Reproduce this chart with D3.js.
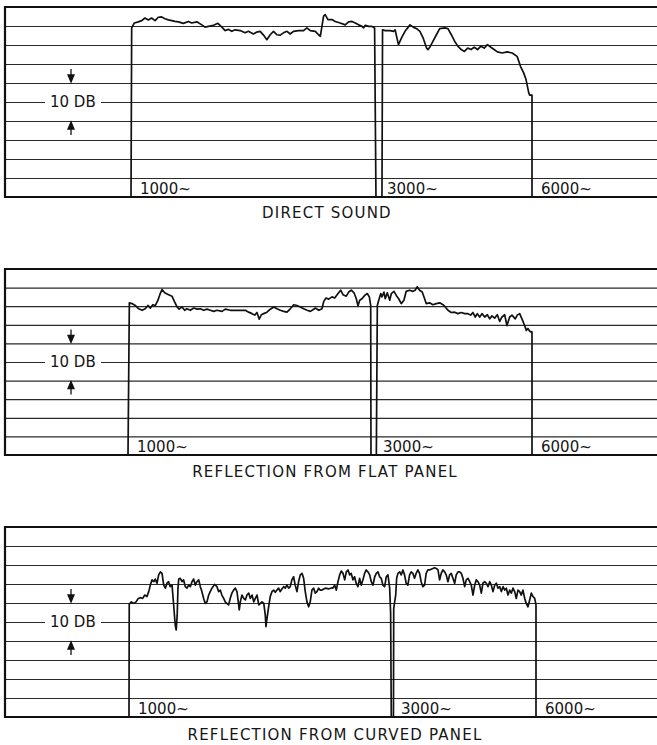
<!DOCTYPE html>
<meta charset="utf-8">
<style>
body { margin: 0; background: #fff; }
svg { display: block; }
.grid .tick line { stroke: #2a2a2a; stroke-width: 1.2px; }
.grid .domain, .grid text { display: none; }
.frame { fill: none; stroke: #111; stroke-width: 2.2px; }
.trace { fill: none; stroke: #111; stroke-width: 1.7px; stroke-linejoin: round; }
.arrow { stroke: #111; stroke-width: 1.3px; fill: #111; }
text { font-family: "DejaVu Sans", sans-serif; font-size: 15px; fill: #151515; }
.title { text-anchor: middle; letter-spacing: 1.2px; }
</style>
<body>
<script src="https://cdn.jsdelivr.net/npm/d3@7"></script>
<script>

var titles = ["DIRECT SOUND", "REFLECTION FROM FLAT PANEL", "REFLECTION FROM CURVED PANEL"];
var markerFreqs = [1000, 3000, 6000];
var markerLabels = ["1000~", "3000~", "6000~"];
var gridDb = [-5, -10, -15, -20, -25, -30, -35, -40, -45];
var scaleLabel = "10 DB";
var scaleSpan = [-20, -30];   // the 10 dB span marked by the arrows

// pen traces: [frequency Hz, level dB relative to chart top]
var directSound = [
  [1000,-50],[1003,-5.5],[1015,-4.2],[1033,-3.9],[1049,-3.6],[1064,-2.9],[1080,-3.4],[1096,-2.9],[1113,-3.6],
  [1129,-2.7],[1146,-2.6],[1163,-3.1],[1181,-3.4],[1199,-3.6],[1216,-3.8],[1235,-3.9],[1262,-4.3],[1291,-3.8],
  [1310,-4.2],[1340,-3.9],[1370,-4.7],[1390,-5.3],[1411,-5.1],[1443,-4.8],[1472,-4.3],[1498,-5.3],[1520,-6.2],
  [1543,-5.9],[1566,-6.4],[1589,-6.0],[1625,-6.2],[1661,-6.8],[1686,-6.4],[1724,-7.1],[1750,-6.6],[1776,-6.4],
  [1803,-7.4],[1830,-8.6],[1857,-7.3],[1885,-6.4],[1913,-7.3],[1942,-7.4],[1970,-6.8],[2001,-6.4],[2030,-7.1],
  [2060,-6.4],[2107,-6.2],[2154,-6.2],[2187,-5.5],[2220,-6.2],[2270,-6.4],[2303,-7.3],[2321,-7.7],[2338,-5.1],
  [2355,-2.4],[2372,-2.0],[2401,-3.3],[2444,-3.3],[2480,-3.8],[2536,-4.2],[2593,-4.7],[2632,-3.9],[2672,-3.8],
  [2712,-4.2],[2752,-4.7],[2794,-5.1],[2814,-5.5],[2835,-4.8],[2877,-5.1],[2921,-5.1],[2955,-5.5],
  [2973,-50],[3054,-50],
  [3062,-6.0],[3099,-6.2],[3169,-6.2],[3216,-6.4],[3240,-6.0],[3289,-9.9],[3339,-8.0],[3388,-6.4],[3465,-4.7],
  [3516,-5.3],[3570,-5.7],[3623,-6.4],[3677,-8.2],[3733,-10.8],[3758,-11.2],[3787,-10.6],[3843,-9.0],[3902,-7.3],
  [3960,-5.7],[4050,-5.5],[4110,-5.7],[4173,-7.3],[4235,-9.0],[4297,-10.3],[4363,-11.2],[4426,-11.7],[4492,-10.8],
  [4560,-11.2],[4628,-10.6],[4696,-11.2],[4768,-10.3],[4839,-10.8],[4911,-9.9],[4986,-10.6],[5059,-11.2],
  [5134,-11.8],[5248,-12.1],[5366,-11.8],[5487,-12.1],[5611,-13.0],[5697,-15.6],[5782,-17.4],[5841,-19.1],
  [5886,-21.3],[5913,-22.6],[5939,-23.2],[6000,-23.2],[6000,-50]
];

var flatPanel = [
  [1000,-50],[1006,-9.1],[1018,-9.3],[1033,-9.8],[1049,-10.7],[1065,-11.1],[1080,-10.7],[1093,-9.8],[1105,-10.5],
  [1117,-9.6],[1130,-9.8],[1143,-8.4],[1155,-6.6],[1164,-5.5],[1178,-6.4],[1199,-6.9],[1217,-7.3],[1232,-8.9],
  [1245,-10.2],[1257,-10.8],[1273,-10.2],[1288,-11.1],[1301,-10.7],[1321,-11.1],[1341,-10.5],[1361,-10.8],
  [1381,-10.7],[1402,-11.1],[1423,-10.8],[1444,-11.1],[1466,-11.4],[1488,-11.1],[1522,-11.4],[1544,-10.8],
  [1579,-11.1],[1615,-11.1],[1651,-11.1],[1689,-11.1],[1714,-11.6],[1740,-12.0],[1761,-12.4],[1779,-11.7],
  [1797,-13.5],[1814,-12.3],[1833,-12.0],[1860,-11.6],[1888,-10.8],[1917,-10.2],[1945,-10.7],[1974,-11.1],
  [2004,-11.4],[2034,-11.6],[2064,-10.7],[2096,-9.6],[2127,-9.8],[2159,-10.2],[2192,-10.7],[2225,-11.1],
  [2258,-11.4],[2292,-10.8],[2309,-10.5],[2344,-11.1],[2378,-10.7],[2397,-8.7],[2421,-7.8],[2451,-8.1],
  [2487,-7.5],[2517,-7.8],[2555,-6.6],[2585,-5.7],[2612,-6.9],[2651,-7.3],[2679,-6.2],[2711,-5.7],[2744,-6.4],
  [2772,-8.0],[2793,-9.9],[2815,-8.4],[2843,-8.0],[2878,-7.1],[2911,-6.6],[2938,-7.5],[2956,-9.8],
  [2960,-50],[3031,-50],
  [3044,-9.8],[3063,-8.4],[3090,-6.6],[3106,-7.5],[3134,-6.2],[3152,-8.0],[3180,-6.4],[3214,-8.4],[3237,-6.6],
  [3275,-6.0],[3308,-7.1],[3343,-8.0],[3381,-9.3],[3421,-8.4],[3455,-6.0],[3506,-5.7],[3558,-6.0],[3594,-5.7],
  [3625,-4.8],[3664,-5.7],[3707,-6.2],[3746,-8.0],[3772,-9.3],[3828,-9.1],[3885,-9.6],[3942,-9.3],[4002,-9.1],
  [4060,-9.6],[4101,-10.2],[4150,-11.1],[4210,-11.7],[4273,-11.6],[4335,-12.0],[4399,-11.7],[4465,-12.0],
  [4531,-12.0],[4584,-12.4],[4631,-11.7],[4678,-12.9],[4719,-12.0],[4770,-12.9],[4818,-12.0],[4875,-12.9],
  [4932,-12.3],[4984,-13.4],[5034,-12.6],[5095,-13.2],[5153,-12.3],[5208,-14.1],[5260,-12.9],[5322,-12.3],
  [5376,-15.2],[5440,-12.9],[5495,-12.4],[5575,-13.4],[5624,-12.4],[5684,-12.0],[5741,-13.4],[5809,-15.2],
  [5851,-16.5],[5894,-16.0],[5938,-16.7],[5980,-16.9],[6000,-16.9],[6000,-50]
];

var curvedPanel = [
  [1000,-50],[1001,-20.3],[1010,-19.7],[1020,-20.1],[1030,-19.7],[1038,-18.9],[1048,-18.6],[1059,-18.8],
  [1068,-17.9],[1078,-18.3],[1086,-17.0],[1093,-15.3],[1101,-13.9],[1109,-14.4],[1116,-13.7],[1124,-14.8],
  [1132,-12.6],[1140,-11.8],[1148,-12.2],[1156,-15.3],[1164,-16.1],[1172,-14.8],[1180,-14.4],[1188,-15.7],
  [1197,-15.3],[1205,-20.5],[1213,-25.8],[1218,-27.1],[1223,-23.2],[1227,-16.1],[1231,-13.7],[1239,-13.5],
  [1248,-14.4],[1256,-13.9],[1265,-15.7],[1274,-16.1],[1283,-15.3],[1292,-15.7],[1301,-14.4],[1310,-13.7],
  [1319,-15.3],[1328,-14.4],[1338,-13.9],[1347,-15.7],[1356,-17.0],[1366,-18.8],[1375,-20.1],[1385,-19.7],
  [1395,-17.9],[1404,-17.0],[1414,-16.1],[1430,-15.1],[1444,-15.7],[1454,-17.0],[1464,-16.6],[1474,-17.9],
  [1485,-18.8],[1495,-19.7],[1505,-20.1],[1516,-20.5],[1526,-18.8],[1537,-17.4],[1548,-16.6],[1559,-16.1],
  [1570,-17.0],[1581,-20.5],[1585,-21.8],[1592,-19.7],[1603,-17.9],[1615,-18.8],[1626,-19.2],[1637,-17.9],
  [1649,-17.4],[1660,-18.8],[1672,-17.9],[1684,-19.7],[1695,-18.8],[1707,-17.9],[1720,-20.5],[1731,-20.1],
  [1743,-19.7],[1756,-20.1],[1767,-23.2],[1772,-26.2],[1780,-24.0],[1792,-21.0],[1804,-18.3],[1817,-17.0],
  [1830,-16.6],[1842,-17.2],[1855,-16.6],[1868,-16.1],[1881,-17.0],[1894,-16.3],[1908,-15.7],[1921,-16.1],
  [1934,-15.3],[1948,-16.1],[1961,-15.7],[1975,-13.9],[1989,-13.1],[2002,-15.3],[2017,-17.0],[2031,-14.4],
  [2045,-12.6],[2060,-12.2],[2074,-13.5],[2088,-17.0],[2103,-19.7],[2118,-21.0],[2132,-19.7],[2147,-16.6],
  [2163,-16.1],[2177,-17.4],[2193,-17.0],[2208,-16.1],[2223,-16.6],[2239,-16.6],[2270,-16.1],[2302,-16.3],
  [2334,-16.0],[2344,-16.1],[2361,-15.3],[2377,-16.6],[2394,-14.4],[2411,-12.6],[2427,-11.6],[2445,-12.2],
  [2462,-13.9],[2479,-11.8],[2496,-11.3],[2514,-12.6],[2530,-12.2],[2548,-13.9],[2566,-13.1],[2583,-14.8],
  [2602,-15.7],[2620,-13.5],[2638,-15.3],[2657,-13.9],[2676,-12.2],[2694,-11.3],[2713,-11.8],[2733,-12.6],
  [2751,-14.4],[2771,-15.3],[2791,-13.1],[2809,-12.2],[2829,-11.8],[2849,-13.1],[2868,-13.5],[2888,-15.3],
  [2909,-15.7],[2929,-13.1],[2950,-12.6],[2971,-16.1],[2983,-22.7],
  [2991,-50],[3021,-50],
  [3025,-21.4],[3039,-19.7],[3054,-17.9],[3068,-13.5],[3087,-12.2],[3113,-11.8],[3136,-12.6],[3162,-11.3],
  [3187,-12.6],[3212,-14.8],[3238,-15.3],[3265,-12.6],[3290,-11.8],[3317,-12.2],[3344,-13.5],[3370,-12.2],
  [3398,-11.3],[3426,-12.2],[3452,-14.4],[3481,-15.7],[3510,-15.3],[3536,-12.2],[3566,-11.3],[3595,-11.3],
  [3623,-11.1],[3653,-10.9],[3683,-10.7],[3712,-10.9],[3743,-11.3],[3773,-13.9],[3802,-12.2],[3833,-11.3],
  [3865,-11.8],[3895,-12.6],[3927,-14.4],[3959,-12.6],[3990,-12.2],[4022,-13.5],[4056,-14.8],[4087,-12.6],
  [4122,-11.8],[4155,-11.8],[4188,-12.2],[4221,-13.5],[4256,-15.7],[4289,-13.9],[4325,-13.5],[4360,-14.4],
  [4394,-15.3],[4430,-17.9],[4467,-15.3],[4501,-13.9],[4538,-14.4],[4575,-15.3],[4611,-17.4],[4648,-14.8],
  [4687,-14.4],[4723,-14.8],[4762,-15.7],[4801,-14.4],[4839,-15.3],[4878,-17.0],[4919,-15.3],[4957,-14.8],
  [4998,-16.1],[5039,-15.7],[5078,-17.0],[5119,-15.7],[5162,-16.6],[5201,-16.1],[5244,-17.9],[5287,-16.6],
  [5328,-17.4],[5370,-16.1],[5415,-17.0],[5457,-18.8],[5502,-16.6],[5546,-17.0],[5590,-17.9],[5635,-16.6],
  [5682,-18.8],[5725,-20.1],[5773,-21.0],[5820,-19.2],[5866,-17.4],[5913,-18.3],[5962,-18.8],[6000,-20.5],
  [6000,-50]
];

var traces = [directSound, flatPanel, curvedPanel];

// layout of the three recorder strips
var W = 657, H = 745, left = 5;
var panels = [
  {top: 7,   bottom: 197, marks: [131, 378, 532], titleX: 327, titleY: 218},
  {top: 269, bottom: 455, marks: [128, 374, 532], titleX: 325, titleY: 477},
  {top: 527, bottom: 717, marks: [129, 392, 536], titleX: 335, titleY: 740}
];

var svg = d3.select("body").append("svg")
    .attr("width", W)
    .attr("height", H);

panels.forEach(function(p, i) {
  var x = d3.scaleLog()
      .domain(markerFreqs)
      .range(p.marks);

  var y = d3.scaleLinear()
      .domain([-50, 0])
      .range([p.bottom, p.top]);

  var g = svg.append("g");

  g.append("g")
      .attr("class", "grid")
      .attr("transform", "translate(" + left + ",0)")
      .call(d3.axisRight(y)
          .tickValues(gridDb)
          .tickSize(W - left)
          .tickFormat(""));

  g.append("path")
      .attr("class", "frame")
      .attr("d", "M" + W + "," + y(0) + "H" + left + "V" + y(-50) + "H" + W);

  // 10 DB scale mark
  var mid = y((scaleSpan[0] + scaleSpan[1]) / 2);
  g.append("rect")
      .attr("x", 45)
      .attr("y", mid - 3)
      .attr("width", 56)
      .attr("height", 6)
      .attr("fill", "#fff");
  g.append("text")
      .attr("x", 50)
      .attr("y", mid)
      .attr("dy", "0.36em")
      .text(scaleLabel);

  [[scaleSpan[0], -1], [scaleSpan[1], 1]].forEach(function(a) {
    var ty = y(a[0]), dir = a[1];
    g.append("line")
        .attr("class", "arrow")
        .attr("x1", 71).attr("x2", 71)
        .attr("y1", ty + dir * 14).attr("y2", ty + dir * 3);
    g.append("path")
        .attr("class", "arrow")
        .attr("d", "M71," + (ty + dir * 1) + "L68," + (ty + dir * 8) + "L74," + (ty + dir * 8) + "Z");
  });

  g.append("path")
      .datum(traces[i])
      .attr("class", "trace")
      .attr("d", d3.line()
          .x(function(d) { return x(d[0]); })
          .y(function(d) { return y(d[1]); }));

  g.selectAll(".freq")
      .data(markerFreqs)
    .enter().append("text")
      .attr("class", "freq")
      .attr("x", function(d) { return x(d) + 9; })
      .attr("y", p.bottom - 3)
      .text(function(d, j) { return markerLabels[j]; });

  g.append("text")
      .attr("class", "title")
      .attr("x", p.titleX)
      .attr("y", p.titleY)
      .text(titles[i]);
});

</script>
